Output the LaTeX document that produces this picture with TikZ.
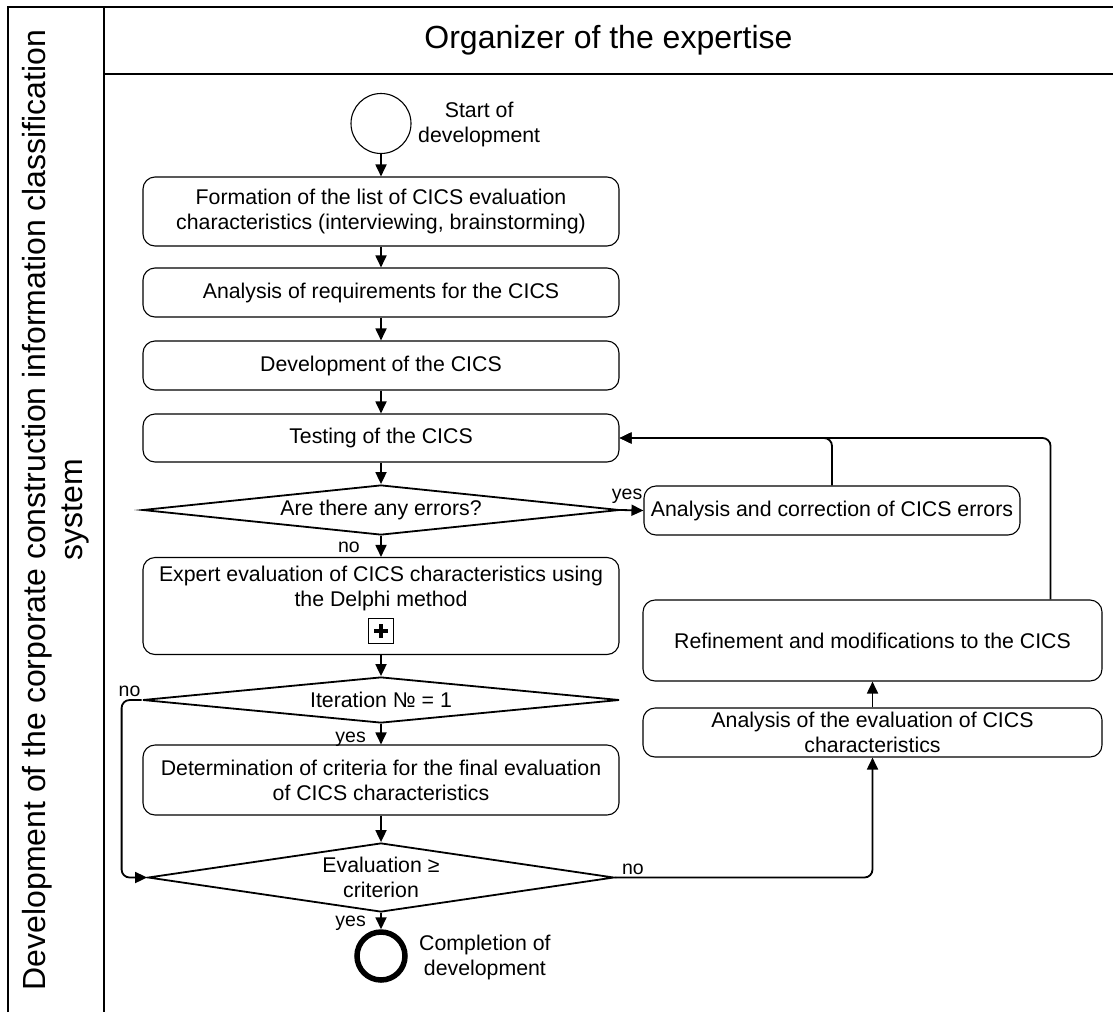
\documentclass[tikz,border=0pt]{standalone}
\usepackage{fontspec}
\setmainfont{Liberation Sans}
\usetikzlibrary{arrows.meta,shapes.geometric}
\newcommand\bodyfnt{\fontsize{21.3}{25}\selectfont}
\newcommand\lblfnt{\fontsize{19.5}{22}\selectfont}
\newcommand\ttlfnt{\fontsize{32}{37}\selectfont}
\begin{document}
\begin{tikzpicture}[x=1pt,y=-1pt,
  proc/.style={draw, line width=1.1pt, rounded corners=12pt, inner sep=0pt, align=center, font=\bodyfnt},
  dec/.style={draw, diamond, line width=1.8pt, inner sep=0pt, align=center, font=\bodyfnt},
  conn/.style={line width=1.8pt, -{Triangle[length=12pt,width=11pt]}, rounded corners=8pt},
  lbl/.style={font=\lblfnt, inner sep=1pt},
  frame/.style={line width=2.2pt},
  evt/.style={circle, draw, inner sep=0pt}]
\fill[white] (0,0) rectangle (1113,1012);
\useasboundingbox (0,0) rectangle (1113,1012);

% pool frame
\draw[frame] (8,1012) -- (8,7) -- (1113,7);
\draw[frame] (104,7) -- (104,1012);
\draw[frame] (104,74) -- (1113,74);
\node[font=\ttlfnt] (org) at (608.5,40.5) {Organizer of the expertise};
\node[font=\ttlfnt, rotate=90, align=center, inner sep=0pt] (lane) at (56,510)
  {Development of the corporate construction information classification\\system};

% main column
\node[evt, line width=1.1pt, minimum size=60pt] (start) at (381,123.5) {};
\node[font=\bodyfnt, align=center, anchor=west, inner sep=0pt] (startl) at (418,124.5) {Start of\\development};
\node[proc, minimum width=476pt, minimum height=69pt] (form) at (381,211.5)
  {Formation of the list of CICS evaluation\\characteristics (interviewing, brainstorming)};
\node[proc, minimum width=476pt, minimum height=49pt] (req) at (381,292.5) {Analysis of requirements for the CICS};
\node[proc, minimum width=476pt, minimum height=49pt] (dev) at (381,365.5) {Development of the CICS};
\node[proc, minimum width=476pt, minimum height=48pt] (test) at (381,438) {Testing of the CICS};
\node[dec, minimum width=477pt, minimum height=50pt, aspect=9.5] (err) at (381,510) {Are there any errors?};
\node[proc, minimum width=476pt, minimum height=97pt] (exp) at (381,606) {};
\node[font=\bodyfnt, align=center, inner sep=0pt] (expt) at (381,588)
  {Expert evaluation of CICS characteristics using\\the Delphi method};
\node[draw, line width=1.6pt, minimum size=25pt, inner sep=0pt] (plus) at (381,631) {};
\draw[line width=3.4pt] ([xshift=-7pt]plus.center) -- ([xshift=7pt]plus.center);
\draw[line width=3.4pt] ([yshift=-7pt]plus.center) -- ([yshift=7pt]plus.center);
\node[dec, minimum width=477pt, minimum height=46pt, aspect=10.4] (iter) at (381,700) {Iteration № = 1};
\node[proc, minimum width=476pt, minimum height=70pt] (crit) at (381,780)
  {Determination of criteria for the final evaluation\\of CICS characteristics};
\node[dec, minimum width=466pt, minimum height=69pt, aspect=6.75] (eval) at (381,877.5) {Evaluation ≥\\criterion};
\node[evt, line width=5.5pt, minimum size=48pt] (end) at (381,956) {};
\node[font=\bodyfnt, align=center, anchor=west, inner sep=0pt] (endl) at (419,957) {Completion of\\development};

% right column
\node[proc, minimum width=376pt, minimum height=49pt] (corr) at (832,510.5) {Analysis and correction of CICS errors};
\node[proc, minimum width=459pt, minimum height=81pt] (refine) at (872.5,640.5) {Refinement and modifications to the CICS};
\node[proc, minimum width=459pt, minimum height=49pt] (evalan) at (872.5,732.5)
  {Analysis of the evaluation of CICS\\characteristics};

% connectors
\draw[conn] (start) -- (form);
\draw[conn] (form) -- (req);
\draw[conn] (req) -- (dev);
\draw[conn] (dev) -- (test);
\draw[conn] (test) -- (err);
\draw[conn] (err) -- (exp);
\draw[conn] (err.east) -- (corr.west);
\draw[conn] (corr.north) |- (test.east);
\draw[conn] ([xshift=-52pt]refine.north east) |- (test.east);
\draw[conn] (exp) -- (iter);
\draw[conn] (iter) -- (crit);
\draw[conn] (crit) -- (eval);
\draw[conn] (eval) -- (end);
\draw[conn] (iter.west) -- ++(-20,0) |- (eval.west);
\draw[conn] (eval.east) -| (evalan.south);
\draw[conn] (evalan) -- (refine);

% labels
\node[lbl, anchor=south east] (y1) at ([yshift=6pt]corr.west) {yes};
\node[lbl, anchor=east] (n1) at ([xshift=-20pt,yshift=-11pt]err.south) {no};
\node[lbl, anchor=south east] (n2) at ([yshift=2pt]iter.west) {no};
\node[lbl, anchor=east] (y2) at ([xshift=-14pt,yshift=-15pt]iter.south) {yes};
\node[lbl, anchor=south west] (n3) at ([xshift=6pt,yshift=2pt]eval.east) {no};
\node[lbl, anchor=east] (y3) at ([xshift=-14pt,yshift=-10pt]eval.south) {yes};
\end{tikzpicture}
\end{document}
